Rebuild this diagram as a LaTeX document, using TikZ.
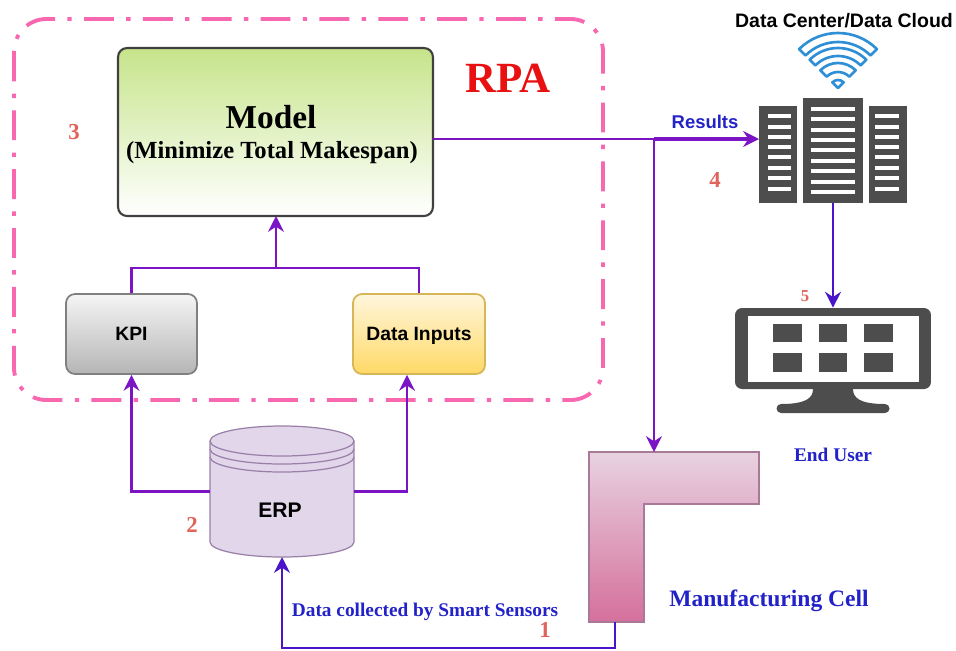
\documentclass[tikz,border=0pt]{standalone}
\usepackage{fontspec}
\setmainfont{Liberation Serif}
\setsansfont{Liberation Sans}
\usetikzlibrary{arrows.meta}
\definecolor{rpapink}{HTML}{F768B0}
\definecolor{rpared}{HTML}{E81010}
\definecolor{numred}{HTML}{E0645A}
\definecolor{linepurple}{HTML}{7A14C4}
\definecolor{lineblue}{HTML}{4A14C8}
\definecolor{textblue}{HTML}{2222C8}
\definecolor{slate}{HTML}{4D4D4D}
\definecolor{wifiblue}{HTML}{2E8FD6}
\definecolor{erpfill}{HTML}{E2D6EA}
\definecolor{erpline}{HTML}{9A80A8}
\definecolor{modeltop}{HTML}{C6E48A}
\definecolor{kpitop}{HTML}{F5F5F5}
\definecolor{kpibottom}{HTML}{B5B5B5}
\definecolor{inputtop}{HTML}{FFF6DC}
\definecolor{inputbottom}{HTML}{FFD966}
\definecolor{inputline}{HTML}{D6B656}
\definecolor{celltopc}{HTML}{E8D2E0}
\definecolor{cellbottomc}{HTML}{D5709C}
\definecolor{cellline}{HTML}{A87A98}
\begin{document}
\begin{tikzpicture}[x=0.02cm,y=0.02cm]
		\tikzstyle{every node}=[inner sep=0pt]
		\tikzstyle{pline}=[draw=linepurple,line width=1.4pt]
		\tikzstyle{parrow}=[pline,-{Stealth[length=9pt,width=9pt]}]
		\tikzstyle{barrow}=[draw=lineblue,line width=1.4pt,-{Stealth[length=9pt,width=9pt]}]
		\tikzstyle{number}=[text=numred,font=\bfseries\fontsize{13}{13}\selectfont]
		\tikzstyle{bluelabel}=[text=textblue,font=\bfseries\fontsize{11}{12}\selectfont]
		\tikzstyle{sanslabel}=[text depth=0pt,font=\sffamily\bfseries\fontsize{11}{12}\selectfont]
		\tikzstyle{rack}=[fill=slate,minimum width=0.76cm]
		\tikzstyle{tile}=[fill=slate,minimum width=0.57cm,minimum height=0.37cm]
		\useasboundingbox (0,0) rectangle (956,-650);
		% RPA frame
		\draw [rpapink,line width=2.2pt,rounded corners=0.65cm,dash pattern=on 17pt off 7pt on 2.5pt off 7pt] (14,-19) rectangle (603,-400);
		\node (rpa) at (508,-78) [text=rpared,font=\bfseries\fontsize{24.5}{25}\selectfont] {RPA};
		% boxes
		\node (model) at (275.5,-132) [draw=black!75,line width=1.2pt,rounded corners=0.18cm,minimum width=6.3cm,minimum height=3.36cm,top color=modeltop,bottom color=white] {};
		\node (modeltitle) at (271,-117) [font=\bfseries\fontsize{19}{19}\selectfont] {Model};
		\node (modelgoal) at (272,-153) [font=\bfseries\fontsize{14}{14}\selectfont] {(Minimize Total Makespan)};
		\node (kpi) at (131.5,-334) [draw=black!50,line width=1pt,rounded corners=0.18cm,minimum width=2.62cm,minimum height=1.6cm,top color=kpitop,bottom color=kpibottom,sanslabel] {KPI};
		\node (inputs) at (419,-334) [draw=inputline,line width=1pt,rounded corners=0.18cm,minimum width=2.64cm,minimum height=1.6cm,top color=inputtop,bottom color=inputbottom,sanslabel] {Data Inputs};
		% ERP cylinder
		\node (erp) at (282,-491.5) [minimum width=2.88cm,minimum height=2.62cm] {};
		\draw [erpline,fill=erpfill,line width=0.7pt] (210,-441) arc (180:0:72 and 15) -- (354,-542) arc (0:-180:72 and 15) -- cycle;
		\draw [erpline,line width=0.7pt] (210,-441) arc (180:360:72 and 15);
		\draw [erpline,line width=0.7pt] (210,-449) arc (180:360:72 and 15);
		\draw [erpline,line width=0.7pt] (210,-457) arc (180:360:72 and 15);
		\node (erplabel) at (280,-510) [font=\sffamily\bfseries\fontsize{12}{12}\selectfont] {ERP};
		% manufacturing cell
		\shade [top color=celltopc,bottom color=cellbottomc] (589,-452) -- (759,-452) -- (759,-504) -- (644,-504) -- (644,-622) -- (589,-622) -- cycle;
		\draw [cellline,line width=0.7pt] (589,-452) -- (759,-452) -- (759,-504) -- (644,-504) -- (644,-622) -- (589,-622) -- cycle;
		\coordinate (celltop) at (654,-452);
		\coordinate (cellout) at (615,-622);
		% servers
		\node (rackleft) at (778,-154.5) [rack,minimum height=1.94cm] {};
		\node (rackmid) at (833,-150.5) [rack,minimum width=1.2cm,minimum height=2.1cm] {};
		\node (rackright) at (888,-154.5) [rack,minimum height=1.94cm] {};
		\foreach \y in {109,119,130,140,150,161,171,182,192}
			\fill [white] (811,-\y-2) rectangle (855,-\y+2);
		\foreach \y in {116,127,137,147,157,168,178,189} {
			\fill [white] (768,-\y-2) rectangle (791,-\y+2);
			\fill [white] (875,-\y-2) rectangle (899,-\y+2);
		}
		% wifi
		\foreach \ro/\ri in {55/46,40/32,25/16}
			\draw [wifiblue,line width=1.5pt,line join=round] (838,-88) ++(45:\ro) arc (45:135:\ro) -- ++(-45:\ro-\ri) arc (135:45:\ri) -- cycle;
		\draw [wifiblue,line width=1.5pt,line join=round] (838,-88) -- ++(45:8) arc (45:135:8) -- cycle;
		\node (cloud) at (844,-21) [font=\sffamily\bfseries\fontsize{11.1}{12}\selectfont] {Data Center/Data Cloud};
		% monitor
		\node (monitor) at (833,-348.5) [fill=slate,rounded corners=0.14cm,minimum width=3.92cm,minimum height=1.62cm] {};
		\fill [white] (748,-316) rectangle (919,-382);
		\fill [slate] (813,-389) .. controls (813,-398) and (806,-404) .. (781,-404) arc (90:270:4.5) -- (885,-413) arc (-90:90:4.5) .. controls (860,-404) and (853,-398) .. (853,-389) -- cycle;
		\foreach \x in {787.5,833,878.5} {
			\node at (\x,-333) [tile] {};
			\node at (\x,-362.5) [tile] {};
		}
		% connectors
		\coordinate (branch) at (654,-139);
		\coordinate (modelout) at (433,-139);
		\coordinate (rackin) at (759,-139);
		\coordinate (modelin) at (276,-216);
		\coordinate (fork) at (276,-268);
		\coordinate (erpin) at (282,-557);
		\coordinate (sensorturn) at (282,-648);
		\draw [pline] (modelout) -- (branch);
		\draw [parrow,line width=2pt] (branch) -- (rackin);
		\draw [parrow] (branch) -- (celltop);
		\draw [pline] (kpi.north) |- (fork) -| (inputs.north);
		\draw [parrow] (fork) -- (modelin);
		\draw [parrow] (erp.west) -| (kpi.south);
		\draw [parrow] (erp.east) -| ([xshift=-0.24cm]inputs.south);
		\draw [barrow] (cellout) |- (sensorturn) -- (erpin);
		\draw [barrow] (rackmid.south) -- (monitor.north);
		% texts
		\node (results) at (705,-122) [text=textblue,font=\sffamily\bfseries\fontsize{10.5}{12}\selectfont] {Results};
		\node (sensors) at (425,-612) [bluelabel] {Data collected by Smart Sensors};
		\node (enduser) at (833,-455) [bluelabel] {End User};
		\node (cell) at (769,-601) [text=textblue,font=\bfseries\fontsize{13.4}{14}\selectfont] {Manufacturing Cell};
		\node (one) at (545,-630) [number] {1};
		\node (two) at (192,-525) [number] {2};
		\node (three) at (74,-132) [number] {3};
		\node (four) at (715,-180) [number] {4};
		\node (five) at (805,-296) [number,font=\bfseries\fontsize{9.5}{10}\selectfont] {5};
		\end{tikzpicture}
\end{document}
